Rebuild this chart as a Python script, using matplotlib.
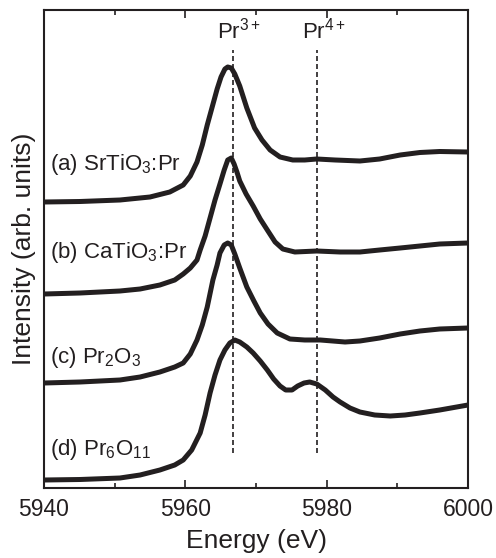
import matplotlib
matplotlib.use("Agg")
import matplotlib.pyplot as plt
from matplotlib.ticker import MultipleLocator

plt.rcParams['font.family'] = ['Liberation Sans', 'DejaVu Sans']
plt.rcParams['mathtext.fontset'] = 'custom'
plt.rcParams['mathtext.rm'] = 'Liberation Sans'
plt.rcParams['mathtext.it'] = 'Liberation Sans:italic'
plt.rcParams['mathtext.bf'] = 'Liberation Sans:bold'

# XANES spectra, Pr L3 edge (energy in eV, intensity in arb. units incl. offsets)
energy_a = [5940.0, 5945.1, 5950.75, 5955.0, 5957.8, 5959.7, 5960.7, 5961.65, 5962.4, 5963.1,
            5963.8, 5964.5, 5965.05, 5965.6, 5966.0, 5966.5, 5967.0, 5967.7, 5968.7, 5969.8,
            5970.85, 5972.0, 5973.4, 5975.2, 5976.9, 5978.6, 5981.2, 5984.7, 5987.5, 5990.4,
            5993.2, 5996.0, 6000.0]
inten_a = [2.86, 2.865, 2.88, 2.91, 2.96, 3.03, 3.12, 3.26, 3.43, 3.63,
           3.81, 3.99, 4.11, 4.19, 4.21, 4.20, 4.14, 4.02, 3.80, 3.60,
           3.48, 3.38, 3.31, 3.28, 3.28, 3.29, 3.28, 3.27, 3.29, 3.33,
           3.355, 3.365, 3.36]

energy_b = [5940.0, 5945.1, 5950.75, 5953.6, 5956.4, 5958.5, 5959.7, 5960.7, 5961.65, 5962.1,
            5962.8, 5963.5, 5964.2, 5964.9, 5965.5, 5966.0, 5966.5, 5966.9, 5967.3, 5967.7,
            5968.6, 5969.6, 5970.6, 5971.6, 5972.7, 5973.8, 5975.5, 5978.6, 5981.9, 5984.7,
            5987.5, 5990.4, 5993.2, 5996.0, 6000.0]
inten_b = [1.94, 1.95, 1.97, 1.99, 2.03, 2.08, 2.14, 2.20, 2.28, 2.38,
           2.52, 2.70, 2.88, 3.04, 3.18, 3.28, 3.30, 3.24, 3.16, 3.07,
           2.94, 2.82, 2.69, 2.58, 2.46, 2.39, 2.36, 2.37, 2.36, 2.36,
           2.38, 2.40, 2.42, 2.44, 2.45]

energy_c = [5940.0, 5945.1, 5950.75, 5953.6, 5956.4, 5958.5, 5959.7, 5960.7, 5961.65, 5962.4,
            5963.1, 5963.9, 5964.5, 5964.9, 5965.5, 5966.0, 5966.5, 5967.0, 5967.7, 5968.7,
            5969.7, 5970.6, 5971.7, 5973.0, 5974.8, 5976.9, 5979.1, 5982.6, 5984.7, 5987.5,
            5990.4, 5993.2, 5996.0, 6000.0]
inten_c = [1.05, 1.06, 1.08, 1.11, 1.16, 1.21, 1.25, 1.34, 1.48, 1.63,
           1.81, 2.08, 2.23, 2.35, 2.43, 2.45, 2.43, 2.34, 2.20, 2.01,
           1.87, 1.75, 1.64, 1.55, 1.49, 1.48, 1.48, 1.46, 1.47, 1.50,
           1.54, 1.57, 1.59, 1.60]

energy_d = [5940.0, 5945.1, 5950.75, 5953.6, 5956.4, 5958.5, 5959.7, 5960.9, 5962.1, 5962.8,
            5963.5, 5964.2, 5964.9, 5965.6, 5966.3, 5967.0, 5967.7, 5968.7, 5969.6, 5970.6,
            5971.6, 5972.5, 5973.4, 5974.2, 5975.1, 5975.9, 5976.8, 5977.6, 5978.6, 5979.8,
            5980.9, 5981.9, 5983.3, 5984.7, 5986.8, 5989.0, 5991.1, 5993.2, 5996.0, 6000.0]
inten_d = [0.08, 0.085, 0.10, 0.13, 0.18, 0.23, 0.28, 0.38, 0.55, 0.73,
           0.95, 1.13, 1.28, 1.38, 1.45, 1.48, 1.46, 1.41, 1.35, 1.27,
           1.18, 1.09, 1.02, 0.98, 0.98, 1.02, 1.05, 1.06, 1.04, 0.98,
           0.91, 0.86, 0.80, 0.76, 0.73, 0.72, 0.73, 0.75, 0.78, 0.83]

labels = ['(a) SrTiO$_3$:Pr', '(b) CaTiO$_3$:Pr', '(c) Pr$_2$O$_3$', '(d) Pr$_6$O$_{11}$']
label_y = [3.18, 2.30, 1.25, 0.33]

ref_energy = [5966.7, 5978.7]
ref_labels = ['Pr$^{3+}$', 'Pr$^{4+}$']

ink = '#231f20'

fig = plt.figure(figsize=(4.96, 5.58), dpi=100)
ax = fig.add_axes([44 / 496, 1 - 488 / 558, 424 / 496, 478 / 558])

for e, y in [(energy_a, inten_a), (energy_b, inten_b), (energy_c, inten_c), (energy_d, inten_d)]:
    ax.plot(e, y, color=ink, lw=3.6, solid_capstyle='round', solid_joinstyle='round', zorder=3)

for e, lab in zip(ref_energy, ref_labels):
    ax.plot([e, e], [0.35, 4.38], color=ink, lw=1.2, ls=(0, (3, 1.8)), zorder=2)
    ax.text(e + 0.9, 4.49, lab, ha='center', va='baseline', fontsize=16, color=ink)

for lab, y in zip(labels, label_y):
    ax.text(5940.85, y, lab, ha='left', va='baseline', fontsize=16, color=ink)

ax.set_xlim(5940, 6000)
ax.set_ylim(0, 4.78)
ax.xaxis.set_major_locator(MultipleLocator(20))
ax.xaxis.set_minor_locator(MultipleLocator(10))
ax.tick_params(axis='x', which='both', direction='in', top=True, width=1.2, colors=ink,
               labelsize=16.5, pad=7)
ax.tick_params(axis='x', which='major', length=5.8)
ax.tick_params(axis='x', which='minor', length=3.5)
ax.set_yticks([])
for s in ax.spines.values():
    s.set_linewidth(1.5)
    s.set_color(ink)

ax.set_xlabel('Energy (eV)', fontsize=19, color=ink)
ax.set_ylabel('Intensity (arb. units)', fontsize=19, color=ink)
ax.xaxis.set_label_coords(0.5, -0.085)
ax.yaxis.set_label_coords(-0.018, 0.5)

fig.savefig('out.png', dpi=100)
